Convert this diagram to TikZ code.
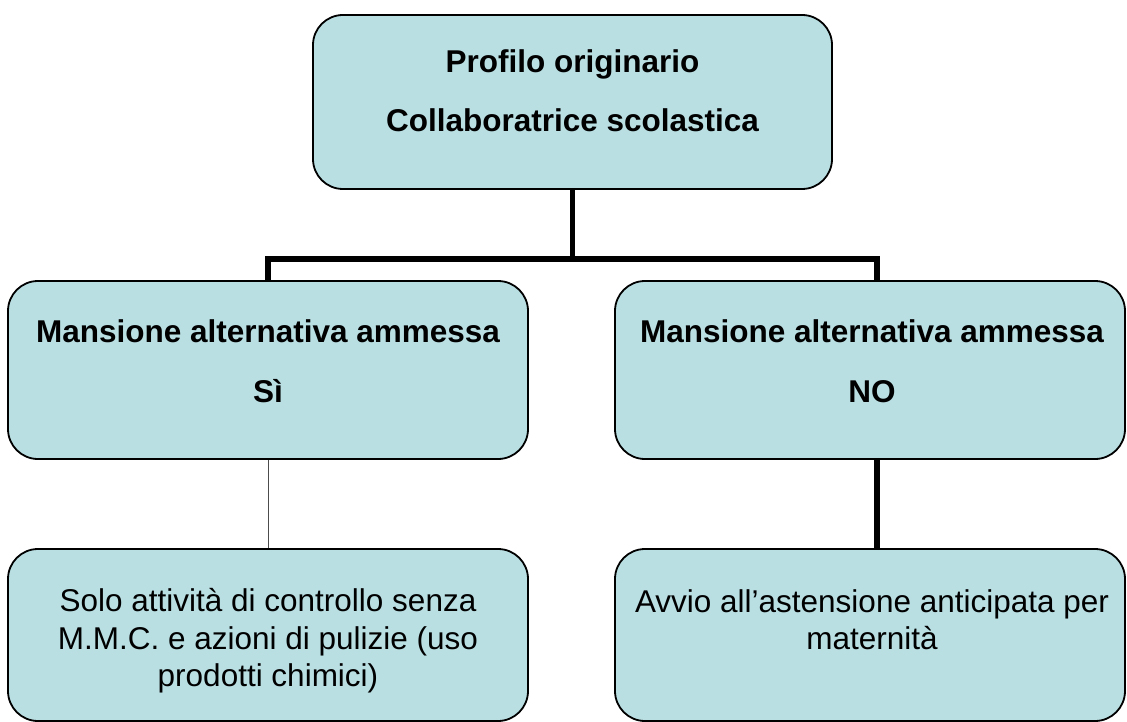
\documentclass[tikz,border=0pt]{standalone}
\usepackage{fontspec}
\setmainfont{Liberation Sans}
\usepackage{tikz}
\definecolor{boxfill}{HTML}{B9DFE3}

\begin{document}
\begin{tikzpicture}[x=1pt,y=-1pt]
\tikzset{
    box/.style={draw=black,line width=1.8pt,fill=boxfill,rounded corners=30pt,inner sep=0pt},
    head/.style={align=center,inner sep=0pt,font=\bfseries\fontsize{31.5}{59.5}\selectfont},
    plain/.style={align=center,inner sep=0pt,font=\fontsize{31.5}{37.5}\selectfont},
    bus/.style={draw=black,line width=5.5pt},
    twig/.style={draw=black!70,line width=0.8pt}
}
\useasboundingbox (0,0) rectangle (1127,722);

%\tikzstyle{box}=[rectangle,draw,fill=boxfill,rounded corners]
\begin{scope}
    \node[box,minimum width=519pt,minimum height=174pt] (prof) at (572.5,102) {};
    \node[box,minimum width=520pt,minimum height=178pt] (yes) at (268,370) {};
    \node[box,minimum width=510pt,minimum height=178pt] (no) at (870,370) {};
    \node[box,minimum width=520pt,minimum height=172pt] (yesact) at (268,635) {};
    \node[box,minimum width=510pt,minimum height=172pt] (noact) at (870,635) {};
\end{scope}

\begin{scope}
    \node[head] (proftxt) at (572.5,90.5) {Profilo originario\\Collaboratrice scolastica};
    \node[head] (yestxt) at (268,361) {Mansione alternativa ammessa\\Sì};
    \node[head] (notxt) at (872,361) {Mansione alternativa ammessa\\NO};
    \node[plain] (yesacttxt) at (268,641) {Solo attività di controllo senza\\M.M.C. e azioni di pulizie (uso\\prodotti chimici)};
    \node[plain] (noacttxt) at (872,619.5) {Avvio all’astensione anticipata per\\maternità};
\end{scope}

\begin{scope}
    \coordinate (split) at (572.5,259);
    \path [bus] (prof.south) -- (split);
    \path [bus] (yes.north) |- (split) -| ([xshift=7pt]no.north);
    \path [twig] (yes.south) -- (yesact.north);
    \path [bus] ([xshift=7pt]no.south) -- ([xshift=7pt]noact.north);
\end{scope}
\end{tikzpicture}
\end{document}
